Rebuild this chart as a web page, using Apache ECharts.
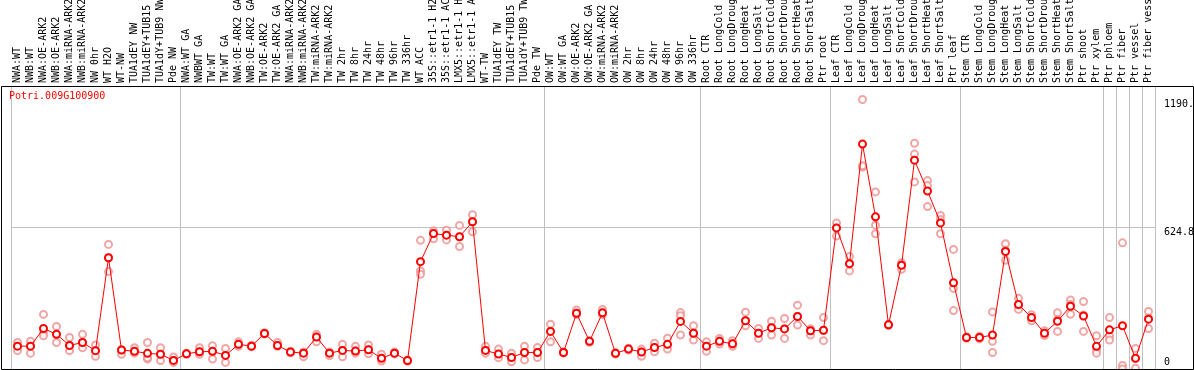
<!DOCTYPE html>
<html>
<head>
<meta charset="utf-8">
<script src="https://cdn.jsdelivr.net/npm/echarts@6/dist/echarts.min.js"></script>
<style>
html, body { margin: 0; padding: 0; background: #fff; }
#container { width: 1194px; height: 370px; }
</style>
</head>
<body>
<div id="container"></div>
<script>
const mono = 'DejaVu Sans Mono';

const geneName = 'Potri.009G100900';

const categories = [
    'NWA:WT', 'NWB:WT', 'NWA:OE-ARK2', 'NWB:OE-ARK2', 'NWA:miRNA-ARK2', 'NWB:miRNA-ARK2',
    'NW 0hr', 'WT H2O', 'WT-NW', 'TUA1dEY NW', 'TUA1dEY+TUB15 NW', 'TUA1dY+TUB9 NW', 'Pde NW',
    'NWA:WT GA', 'NWBWT GA', 'TW:WT', 'TW:WT GA', 'NWA:OE-ARK2 GA', 'NWB:OE-ARK2 GA',
    'TW:OE-ARK2', 'TW:OE-ARK2 GA', 'NWA:miRNA-ARK2', 'NWB:miRNA-ARK2', 'TW:miRNA-ARK2',
    'TW:miRNA-ARK2', 'TW 2hr', 'TW 8hr', 'TW 24hr', 'TW 48hr', 'TW 96hr', 'TW 336hr',
    'WT ACC', '35S::etr1-1 H2O', '35S::etr1-1 ACC', 'LMX5::etr1-1 H2O', 'LMX5::etr1-1 ACC',
    'WT-TW', 'TUA1dEY TW', 'TUA1dEY+TUB15 TW', 'TUA1dY+TUB9 TW', 'Pde TW',
    'OW:WT', 'OW:WT GA', 'OW:OE-ARK2', 'OW:OE-ARK2 GA', 'OW:miRNA-ARK2', 'OW:miRNA-ARK2',
    'OW 2hr', 'OW 8hr', 'OW 24hr', 'OW 48hr', 'OW 96hr', 'OW 336hr',
    'Root CTR', 'Root LongCold', 'Root LongDrought', 'Root LongHeat', 'Root LongSalt',
    'Root ShortCold', 'Root ShortDrought', 'Root ShortHeat', 'Root ShortSalt', 'Ptr root',
    'Leaf CTR', 'Leaf LongCold', 'Leaf LongDrought', 'Leaf LongHeat', 'Leaf LongSalt',
    'Leaf ShortCold', 'Leaf ShortDrought', 'Leaf ShortHeat', 'Leaf ShortSalt', 'Ptr leaf',
    'Stem CTR', 'Stem LongCold', 'Stem LongDrought', 'Stem LongHeat', 'Stem LongSalt',
    'Stem ShortCold', 'Stem ShortDrought', 'Stem ShortHeat', 'Stem ShortSalt', 'Ptr shoot',
    'Ptr xylem', 'Ptr phloem', 'Ptr fiber', 'Ptr vessel', 'Ptr fiber vessel'
];

// mean expression per sample (red line)
const meanValues = [
    101, 101, 179, 153, 104, 117, 81, 491, 84, 78, 69, 65, 38,
    67, 76, 78, 60, 109, 101, 157, 104, 75, 70, 141, 70, 82, 79, 85, 47, 70, 37,
    474, 598, 591, 584, 650, 82, 66, 51, 73, 73,
    166, 73, 246, 122, 248, 69, 88, 75, 95, 109, 210, 158,
    101, 122, 111, 213, 158, 182, 177, 232, 169, 171,
    623, 465, 993, 672, 195, 458, 922, 786, 645, 381,
    139, 139, 150, 519, 285, 227, 158, 211, 277, 234,
    100, 173, 191, 47, 220
];

// single replicates (pale circles)
const replicates = [
    [117, 101, 81], [123, 101, 70], [241, 161, 147], [188, 153, 117], [139, 104, 81],
    [153, 117, 94], [106, 81, 56], [550, 491, 430], [84, 84, 65], [94, 78, 70],
    [117, 44, 50], [94, 65, 37], [53, 38, 29],
    [67, 70, 65], [94, 76, 65], [103, 78, 44], [91, 60, 29], [120, 109, 100],
    [101, 105, 98], [157, 160, 154], [117, 104, 100], [75, 78, 72], [70, 75, 54],
    [153, 141, 120], [70, 75, 59], [109, 82, 54], [100, 79, 70], [106, 85, 67],
    [65, 47, 35], [70, 75, 66], [37, 40, 34],
    [568, 433, 418], [610, 598, 575], [613, 591, 570], [634, 584, 541], [681, 650, 606],
    [100, 82, 70], [88, 66, 50], [70, 51, 32], [100, 73, 40], [95, 73, 51],
    [198, 166, 120], [73, 76, 70], [261, 246, 240], [122, 125, 118], [263, 248, 240],
    [69, 72, 66], [88, 92, 84], [88, 75, 56], [114, 95, 76], [136, 109, 88],
    [249, 235, 150], [191, 158, 128],
    [120, 101, 78], [135, 122, 110], [125, 111, 100], [251, 213, 191], [179, 158, 135],
    [211, 182, 150], [223, 177, 135], [282, 232, 194], [178, 169, 150], [227, 170, 125],
    [645, 623, 587], [497, 465, 433], [1190, 892, 897], [782, 635, 597], [195, 198, 192],
    [469, 458, 440], [997, 949, 826], [832, 810, 717], [678, 660, 597], [528, 356, 258],
    [139, 142, 136], [145, 139, 133], [252, 122, 73], [553, 525, 480], [312, 280, 263],
    [240, 227, 213], [169, 158, 148], [248, 218, 166], [305, 285, 242], [298, 238, 166],
    [147, 83, 70], [227, 147, 128], [557, 16, 0], [91, 47, 3], [254, 225, 179]
];

// first sample of each block, a grey separator is drawn before it
const groupStarts = [0, 13, 41, 53, 63, 73, 84, 85, 86, 87];

const axisMax = 1249.6;
const axisStep = 624.8;
const yMarkValues = [1190, 624.8, 0];
const yMarkLabels = ['1190.', '624.8', '0'];

const replicatePoints = [];
replicates.forEach(function (reps, i) {
    reps.forEach(function (v) { replicatePoints.push([i, v]); });
});

function isGroupStart(index) {
    return groupStarts.indexOf(index) >= 0;
}

let option = {
    animation: false,
    backgroundColor: '#fff',
    textStyle: { fontFamily: mono },
    title: {
        text: geneName,
        left: 9,
        top: 91,
        padding: 0,
        textStyle: { color: '#ff0000', fontFamily: mono, fontSize: 10, fontWeight: 'normal' }
    },
    grid: {
        left: 11,
        right: 39,
        top: 86,
        bottom: 1,
        containLabel: false,
        outerBoundsMode: 'none'
    },
    xAxis: {
        type: 'category',
        position: 'top',
        data: categories,
        boundaryGap: true,
        axisLine: { show: false },
        axisTick: {
            show: true,
            length: 86,
            interval: isGroupStart,
            lineStyle: { color: '#c0c0c0', width: 1 }
        },
        splitLine: {
            show: true,
            interval: isGroupStart,
            lineStyle: { color: '#c0c0c0', width: 1 }
        },
        axisLabel: {
            interval: 0,
            rotate: 90,
            margin: 3,
            color: '#000',
            fontFamily: mono,
            fontSize: 10,
            hideOverlap: false
        }
    },
    yAxis: {
        type: 'value',
        min: 0,
        max: axisMax,
        interval: axisStep,
        axisLine: { show: false },
        axisTick: { show: false },
        axisLabel: { show: false },
        splitLine: { show: true, lineStyle: { color: '#c0c0c0', width: 1 } }
    },
    graphic: [
        {
            type: 'rect',
            shape: { x: 1.5, y: 86.5, width: 1192, height: 283 },
            style: { fill: null, stroke: '#000', lineWidth: 1 },
            silent: true,
            z: 100
        }
    ],
    series: [
        {
            type: 'scatter',
            data: replicatePoints,
            symbol: 'emptyCircle',
            symbolSize: 7,
            itemStyle: { color: '#ee9090', borderColor: '#ee9090', borderWidth: 1 },
            z: 2,
            markLine: {
                silent: true,
                symbol: 'none',
                lineStyle: { color: 'rgba(0,0,0,0)', width: 0 },
                label: {
                    show: true,
                    position: 'end',
                    distance: 9,
                    color: '#000',
                    fontFamily: mono,
                    fontSize: 10
                },
                data: yMarkValues.map(function (v, k) {
                    return {
                        yAxis: v,
                        label: { formatter: yMarkLabels[k], offset: [0, v === 0 ? -7 : 5] }
                    };
                })
            }
        },
        {
            type: 'line',
            data: meanValues,
            symbol: 'emptyCircle',
            symbolSize: 7,
            lineStyle: { color: '#ff0000', width: 1 },
            itemStyle: { color: '#ff0000', borderColor: '#ff0000', borderWidth: 1.5 },
            z: 3
        }
    ]
};

let chartDom = document.getElementById('container');
let chrt = echarts.init(chartDom, null, { renderer: 'canvas' });
chrt.setOption(option);
</script>
</body>
</html>
